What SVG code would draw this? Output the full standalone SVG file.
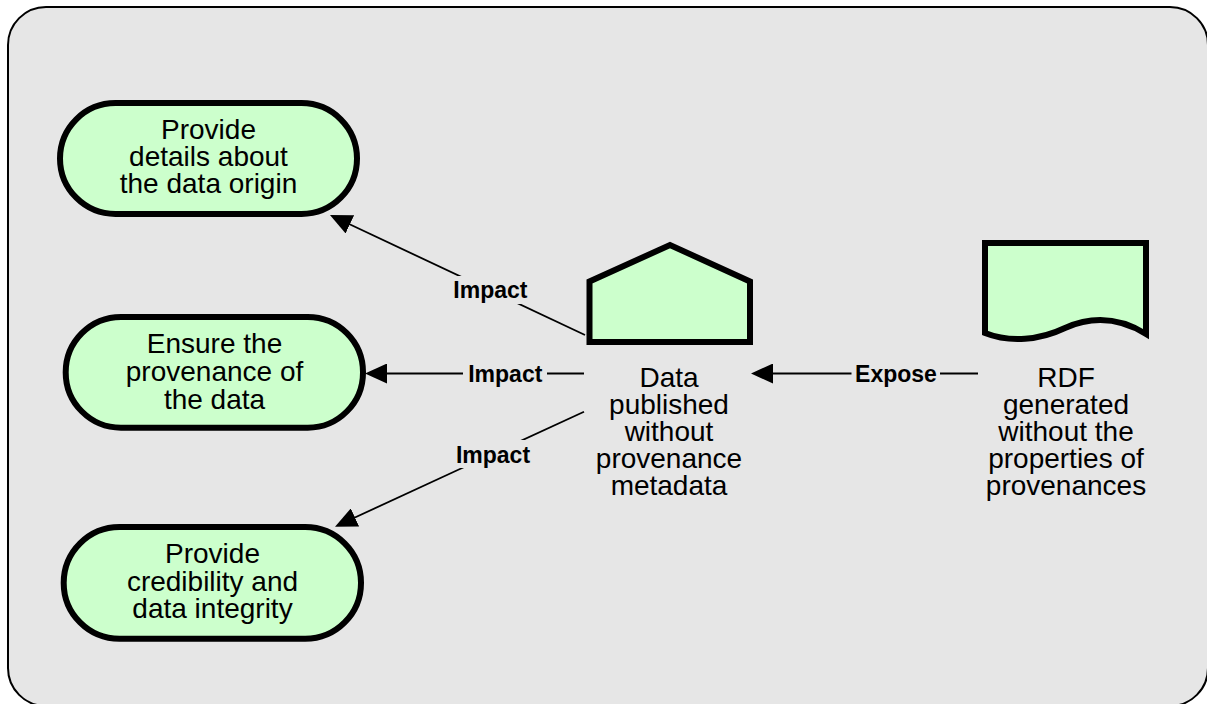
<svg xmlns="http://www.w3.org/2000/svg" width="1207" height="704" viewBox="0 0 1207 704">
<style>
.node{fill:#ccffcc;stroke:#000;stroke-width:6;stroke-linejoin:miter}
.t{font-family:"Liberation Sans",Arial,sans-serif;font-size:28px;fill:#000;text-anchor:middle}
.lbl{font-family:"Liberation Sans",Arial,sans-serif;font-size:23px;font-weight:bold;fill:#000;text-anchor:middle}
.edge{stroke:#000;stroke-width:1.8;fill:none}
.lblbg{fill:#e6e6e6}
</style>
<defs>
<marker id="arr" markerUnits="userSpaceOnUse" markerWidth="22" markerHeight="20" refX="12" refY="10" orient="auto" viewBox="0 0 22 20">
<path d="M0,0 L22,10 L0,20 z" fill="#000"/>
</marker>
</defs>
<rect x="8" y="7" width="1200" height="699" rx="38" ry="38" fill="#e6e6e6" stroke="#000" stroke-width="2"/>
<g id="connectors">
<line class="edge" x1="585" y1="335" x2="339" y2="219.3" marker-end="url(#arr)"/>
<line class="edge" x1="584" y1="373.5" x2="375" y2="373.5" marker-end="url(#arr)"/>
<line class="edge" x1="584" y1="411.7" x2="344.1" y2="522.5" marker-end="url(#arr)"/>
<line class="edge" x1="978" y1="373.5" x2="761" y2="373.5" marker-end="url(#arr)"/>
<rect class="lblbg" x="451" y="276" width="79" height="28"/>
<text class="lbl" x="490.4" y="298.3">Impact</text>
<rect class="lblbg" x="463" y="362" width="84" height="24"/>
<text class="lbl" x="505.3" y="381.7">Impact</text>
<rect class="lblbg" x="453" y="440" width="80" height="28"/>
<text class="lbl" x="493" y="462.7">Impact</text>
<rect class="lblbg" x="851.5" y="362" width="88.5" height="24"/>
<text class="lbl" x="896" y="382.3">Expose</text>
</g>
<g id="node-origin">
<rect class="node" x="60" y="103" width="297" height="111" rx="55.5" ry="55.5"/>
<text class="t" x="208.5" y="139">Provide</text>
<text class="t" x="208.5" y="166">details about</text>
<text class="t" x="208.5" y="193">the data origin</text>
</g>
<g id="node-provenance">
<rect class="node" x="65.7" y="317" width="297.3" height="110.7" rx="55.3" ry="55.3"/>
<text class="t" x="214.5" y="353">Ensure the</text>
<text class="t" x="214.5" y="381">provenance of</text>
<text class="t" x="214.5" y="409">the data</text>
</g>
<g id="node-credibility">
<rect class="node" x="63.7" y="527" width="297.3" height="111.7" rx="55.8" ry="55.8"/>
<text class="t" x="212.5" y="563">Provide</text>
<text class="t" x="212.5" y="591">credibility and</text>
<text class="t" x="212.5" y="618">data integrity</text>
</g>
<g id="node-data">
<polygon class="node" points="589.5,342 589.5,281.5 670,245 750,281.5 750,342"/>
<text class="t" x="669" y="387">Data</text>
<text class="t" x="669" y="414">published</text>
<text class="t" x="669" y="441">without</text>
<text class="t" x="669" y="468">provenance</text>
<text class="t" x="669" y="495">metadata</text>
</g>
<g id="node-rdf">
<path class="node" d="M985,333 V243 H1146 V334 C1120,318 1092,316 1065,328 C1040,340 1010,343 985,333 z"/>
<text class="t" x="1066" y="387">RDF</text>
<text class="t" x="1066" y="414">generated</text>
<text class="t" x="1066" y="441">without the</text>
<text class="t" x="1066" y="468">properties of</text>
<text class="t" x="1066" y="495">provenances</text>
</g>
</svg>
